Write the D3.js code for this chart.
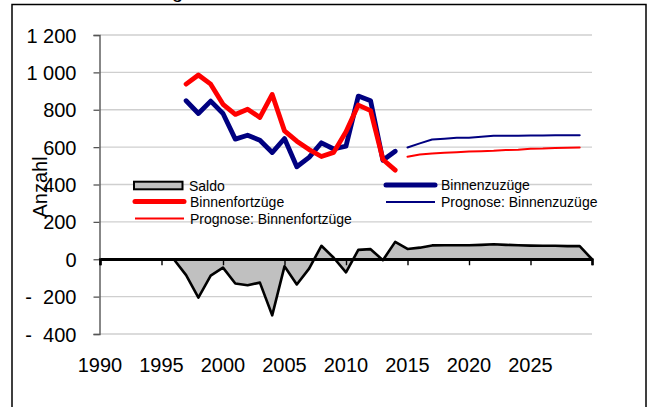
<!DOCTYPE html>
<html><head><meta charset="utf-8">
<script src="https://cdn.jsdelivr.net/npm/d3@7"></script>
<style>
body{margin:0;background:#fff}
svg{display:block}
text{font-family:"Liberation Sans",Arial,Helvetica,sans-serif;fill:#000}
</style>
</head><body>
<svg id="chart" width="648" height="407"></svg>
<script>
// ---------- data ----------
const years = [1990,1991,1992,1993,1994,1995,1996,1997,1998,1999,2000,2001,2002,2003,2004,2005,2006,2007,2008,2009,2010,2011,2012,2013,2014,2015,2016,2017,2018,2019,2020,2021,2022,2023,2024,2025,2026,2027,2028,2029,2030];
const saldo = [0,0,0,0,0,0,0,-85,-205,-88,-45,-130,-139,-125,-300,-38,-135,-50,72,8,-70,50,54,-5,93,55,62,74,75,75,75,77,80,77,75,73,72,72,70,70,0];
const yearsIst = [1997,1998,1999,2000,2001,2002,2003,2004,2005,2006,2007,2008,2009,2010,2011,2012,2013,2014];
const binnenzuzuege   = [848,780,846,780,643,664,637,571,646,495,545,623,590,605,873,848,530,578];
const binnenfortzuege = [937,986,937,829,775,803,759,882,687,632,587,550,572,682,825,795,534,477];
const yearsPrognose = [2015,2016,2017,2018,2019,2020,2021,2022,2023,2024,2025,2026,2027,2028,2029];
const prognoseZuzuege   = [598,620,641,645,650,650,655,661,661,661,662,662,663,663,663];
const prognoseFortzuege = [548,561,566,570,573,577,578,580,584,586,591,592,595,597,598];
const yTicks = [-400,-200,0,200,400,600,800,1000,1200];
const xTickYears = [1990,1995,2000,2005,2010,2015,2020,2025,2030];
const xLabels = ["1990","1995","2000","2005","2010","2015","2020","2025"];
const seriesNames = ["Saldo","Binnenzuzüge","Binnenfortzüge","Prognose: Binnenzuzüge","Prognose: Binnenfortzüge"];
const yTitle = "Anzahl";
const titleText = "Wanderung";

// ---------- layout ----------
const svg = d3.select("#chart");
const x = d3.scaleLinear().domain([1990, 2030]).range([100, 592]);
const y = d3.scaleLinear().domain([-400, 1200]).range([334, 35]);
const NAVY = "#000080", RED = "#ff0000";
const loc = d3.formatLocale({decimal:",", thousands:"\u00a0", grouping:[3], currency:["",""]});
const fmt = loc.format(",d");

// frame
svg.append("rect").attr("x",12).attr("y",4.5).attr("width",634).attr("height",430)
  .attr("fill","none").attr("stroke","#000").attr("stroke-width",1.5);
svg.append("text").attr("x",183).attr("y",-2).attr("text-anchor","end")
  .style("font-size","20px").text(titleText);

// gridlines
svg.append("g").selectAll("line").data(yTicks.filter(v=>v!==0)).join("line")
  .attr("x1",100).attr("x2",592).attr("y1",d=>y(d)).attr("y2",d=>y(d))
  .attr("stroke","#cfcfcf").attr("stroke-width",1.3);

// saldo area
const saldoData = years.map((yr,i)=>({year:yr, value:saldo[i]}));
svg.append("path").datum(saldoData)
  .attr("d", d3.area().x(d=>x(d.year)).y0(y(0)).y1(d=>y(d.value)))
  .attr("fill","#c0c0c0").attr("stroke","#000").attr("stroke-width",2.6).attr("stroke-linejoin","round");

// y axis
const yAxis = svg.append("g").attr("transform","translate(99.5,0)")
  .call(d3.axisLeft(y).tickValues(yTicks).tickSize(6).tickPadding(17)
    .tickFormat(v => v < 0 ? "-\u00a0\u00a0" + fmt(-v) : fmt(v)));
yAxis.select(".domain").attr("stroke","#555").attr("stroke-width",1.4);
yAxis.selectAll(".tick line").attr("stroke","#555").attr("stroke-width",1.3);
yAxis.selectAll(".tick text").style("font-size","20px").style("font-family","'Liberation Sans',Arial,sans-serif")
  .attr("dy","0.35em").attr("fill","#000");

// x axis at zero
const xAxis = svg.append("g").attr("transform",`translate(0,${y(0)})`)
  .call(d3.axisBottom(x).tickValues(xTickYears).tickSize(6).tickFormat(""));
xAxis.select(".domain").attr("stroke","#000").attr("stroke-width",2.6);
xAxis.selectAll(".tick line").attr("stroke","#000").attr("stroke-width",1.4);

// x labels at bottom
svg.append("g").selectAll("text").data(xLabels).join("text")
  .attr("x",d=>x(+d)).attr("y",372).attr("text-anchor","middle")
  .style("font-size","20px").text(d=>d);

// y title
svg.append("text").attr("transform","translate(47,187) rotate(-90)")
  .attr("text-anchor","middle").style("font-size","20px").text(yTitle);

// lines
const line = d3.line().x(d=>x(d[0])).y(d=>y(d[1]));
function drawLine(xs, vs, color, w){
  svg.append("path").datum(xs.map((yr,i)=>[yr, vs[i]]))
    .attr("d", line).attr("fill","none").attr("stroke",color)
    .attr("stroke-width",w).attr("stroke-linejoin","round").attr("stroke-linecap","round");
}
drawLine(yearsIst, binnenzuzuege, NAVY, 4.8);
drawLine(yearsIst, binnenfortzuege, RED, 4.8);
drawLine(yearsPrognose, prognoseZuzuege, NAVY, 2);
drawLine(yearsPrognose, prognoseFortzuege, RED, 2);

// legend
const leg = svg.append("g").style("font-size","14px");
const legendItems = [
  {name:seriesNames[0], kind:"area", x:134, y:185.5},
  {name:seriesNames[1], kind:"line", color:NAVY, w:5, x:386, y:185},
  {name:seriesNames[2], kind:"line", color:RED, w:5, x:135, y:201.5},
  {name:seriesNames[3], kind:"line", color:NAVY, w:2, x:386, y:202},
  {name:seriesNames[4], kind:"line", color:RED, w:2, x:135, y:218.5}
];
legendItems.forEach(it=>{
  if(it.kind==="area"){
    leg.append("rect").attr("x",it.x).attr("y",it.y-3.8).attr("width",48.5).attr("height",7.6)
      .attr("fill","#c0c0c0").attr("stroke","#000").attr("stroke-width",2);
  } else {
    leg.append("line").attr("x1",it.x).attr("x2",it.x+49).attr("y1",it.y).attr("y2",it.y)
      .attr("stroke",it.color).attr("stroke-width",it.w).attr("stroke-linecap",it.w>3?"round":"butt");
  }
  leg.append("text").attr("x",it.x+55).attr("y",it.y+5).text(it.name);
});
</script>
</body></html>
